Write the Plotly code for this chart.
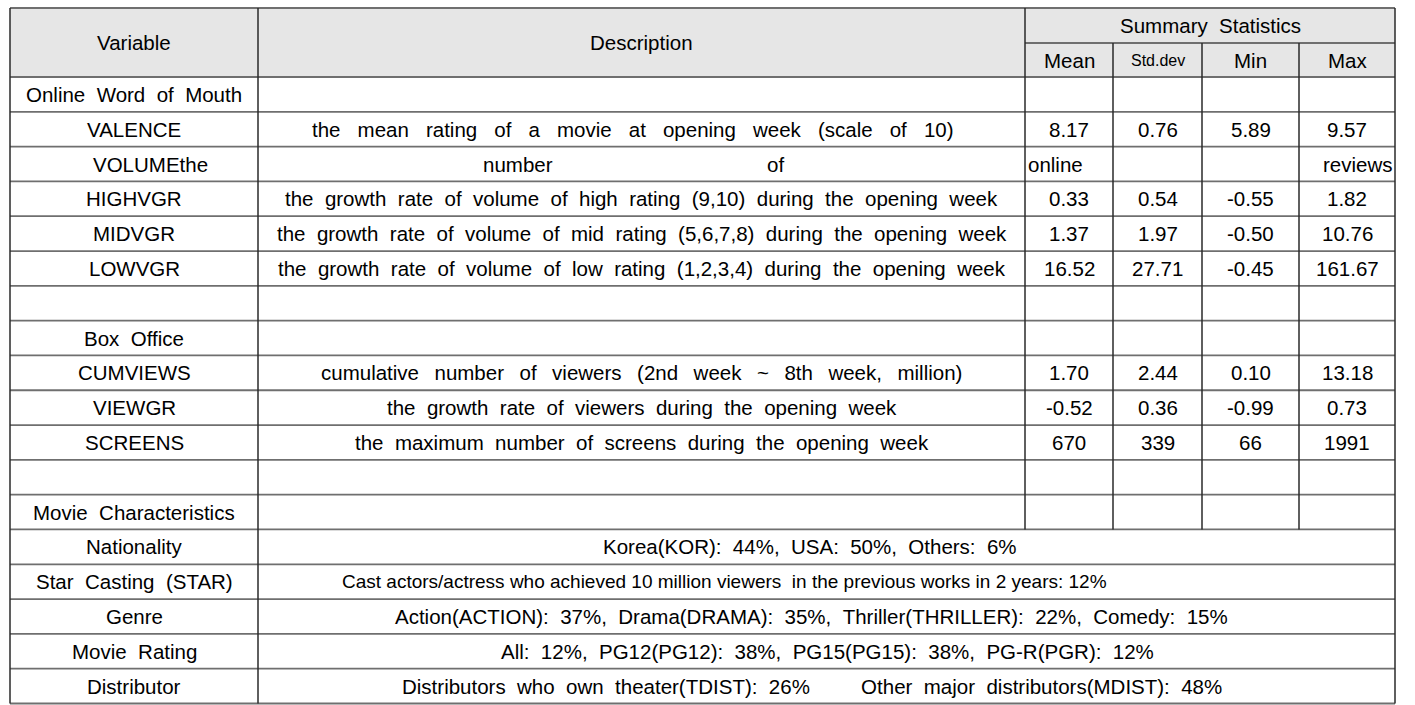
import re
import plotly.graph_objects as go

# ---------------- data ----------------
variables = ["Online Word of Mouth", "VALENCE", "VOLUMEthe", "HIGHVGR", "MIDVGR", "LOWVGR", "",
             "Box Office", "CUMVIEWS", "VIEWGR", "SCREENS", "",
             "Movie Characteristics", "Nationality", "Star Casting (STAR)", "Genre",
             "Movie Rating", "Distributor"]
descriptions = ["",
                "the mean rating of a movie at opening week (scale of 10)",
                "",
                "the growth rate of volume of high rating (9,10) during the opening week",
                "the growth rate of volume of mid rating (5,6,7,8) during the opening week",
                "the growth rate of volume of low rating (1,2,3,4) during the opening week",
                "", "",
                "cumulative number of viewers (2nd week ~ 8th week, million)",
                "the growth rate of viewers during the opening week",
                "the maximum number of screens during the opening week",
                "", "",
                "Korea(KOR): 44%, USA: 50%, Others: 6%",
                "Cast actors/actress who achieved 10 million viewers  in the previous works in 2 years: 12%",
                "Action(ACTION): 37%, Drama(DRAMA): 35%, Thriller(THRILLER): 22%, Comedy: 15%",
                "All: 12%, PG12(PG12): 38%, PG15(PG15): 38%, PG-R(PGR): 12%",
                "Distributors who own theater(TDIST): 26%         Other major distributors(MDIST): 48%"]
mean_vals = ["", "8.17", "", "0.33", "1.37", "16.52", "", "", "1.70", "-0.52", "670", "", ""]
std_vals = ["", "0.76", "", "0.54", "1.97", "27.71", "", "", "2.44", "0.36", "339", "", ""]
min_vals = ["", "5.89", "", "-0.55", "-0.50", "-0.45", "", "", "0.10", "-0.99", "66", "", ""]
max_vals = ["", "9.57", "", "1.82", "10.76", "161.67", "", "", "13.18", "0.73", "1991", "", ""]
stat_headers = ["Mean", "Std.dev", "Min", "Max"]
volume_words = ["number", "of", "online", "reviews"]

# ---------------- layout / style ----------------
W, H = 1415, 705
col_x = [10, 258, 1025, 1113, 1202, 1299, 1395]
top, head_mid, body_top, bottom = 8, 43, 77, 703.5
n_rows = len(variables)
rh = (bottom - body_top) / n_rows
n_stat_rows = len(mean_vals)  # rows that keep the statistic columns

FONT = "Liberation Sans, Arial, sans-serif"
FS = 20.5

# word-spacing used for each description row (source document is justified)
NB, TH = "\u00a0", "\u2009"
desc_gap = {1: " " + NB + NB, 8: " " + NB + TH, 14: " "}
desc_size = {14: 19}
desc_center_override = {1: 633, 13: 810, 14: 724, 15: 811, 16: 827, 17: 812}


def spaced(s, gap=" " + NB):
    parts = re.split(r"( {2,})", s)
    out = []
    for p in parts:
        if p.startswith("  "):
            out.append(NB * len(p))
        else:
            out.append(p.replace(" ", gap))
    return "".join(out)


shapes = []
ann = []

HLINE = dict(color="#6f6f6f", width=1.8)
VLINE = dict(color="#2a2a2a", width=1.5)

shapes.append(dict(type="rect", x0=col_x[0], x1=col_x[-1], y0=top, y1=body_top,
                   fillcolor="#e6e6e6", line=dict(width=0), layer="below"))

shapes.append(dict(type="line", x0=col_x[0], x1=col_x[-1], y0=top, y1=top, line=HLINE))
shapes.append(dict(type="line", x0=col_x[2], x1=col_x[-1], y0=head_mid, y1=head_mid, line=HLINE))
for i in range(n_rows + 1):
    y = body_top + i * rh
    shapes.append(dict(type="line", x0=col_x[0], x1=col_x[-1], y0=y, y1=y, line=HLINE))

stat_bottom = body_top + n_stat_rows * rh
for cx in (col_x[0], col_x[1], col_x[-1]):
    shapes.append(dict(type="line", x0=cx, x1=cx, y0=top, y1=bottom, line=VLINE))
shapes.append(dict(type="line", x0=col_x[2], x1=col_x[2], y0=top, y1=stat_bottom, line=VLINE))
for cx in col_x[3:6]:
    shapes.append(dict(type="line", x0=cx, x1=cx, y0=head_mid, y1=stat_bottom, line=VLINE))


def add(text, x, y, size=FS, xanchor="center"):
    ann.append(dict(text=text, x=x, y=y, xref="x", yref="y", showarrow=False,
                    xanchor=xanchor, yanchor="middle",
                    font=dict(family=FONT, size=size, color="#000000")))


add("Variable", (col_x[0] + col_x[1]) / 2, (top + body_top) / 2)
add("Description", (col_x[1] + col_x[2]) / 2, (top + body_top) / 2)
add(spaced("Summary Statistics"), (col_x[2] + col_x[-1]) / 2, (top + head_mid) / 2)
for j, h in enumerate(stat_headers):
    add(h, (col_x[2 + j] + col_x[3 + j]) / 2, (head_mid + body_top) / 2,
        size=16 if h == "Std.dev" else FS)

desc_center = (col_x[1] + col_x[2]) / 2
for i, v in enumerate(variables):
    yc = body_top + (i + 0.5) * rh
    if v == "VOLUMEthe":
        add(v, 150, yc)
        add(volume_words[0], 518, yc)
        add(volume_words[1], 775, yc)
        add(volume_words[2], col_x[2] + 1, yc, xanchor="left")
        add(volume_words[3], col_x[-1], yc, xanchor="right")
    elif v:
        add(spaced(v), (col_x[0] + col_x[1]) / 2, yc)
    d = descriptions[i]
    if d:
        cx = desc_center_override.get(i, desc_center)
        add(spaced(d, desc_gap.get(i, " " + NB)), cx, yc, size=desc_size.get(i, FS))
    if i < n_stat_rows:
        for j, arr in enumerate([mean_vals, std_vals, min_vals, max_vals]):
            if arr[i]:
                add(arr[i], (col_x[2 + j] + col_x[3 + j]) / 2, yc)

fig = go.Figure()
fig.update_layout(
    width=W, height=H, margin=dict(l=0, r=0, t=0, b=0),
    paper_bgcolor="white", plot_bgcolor="white",
    xaxis=dict(range=[0, W], visible=False, fixedrange=True),
    yaxis=dict(range=[H, 0], visible=False, fixedrange=True),
    shapes=shapes, annotations=ann, showlegend=False,
)
fig.write_html("out.html", config={"displayModeBar": False},
               post_script="document.body.style.margin='0';")
